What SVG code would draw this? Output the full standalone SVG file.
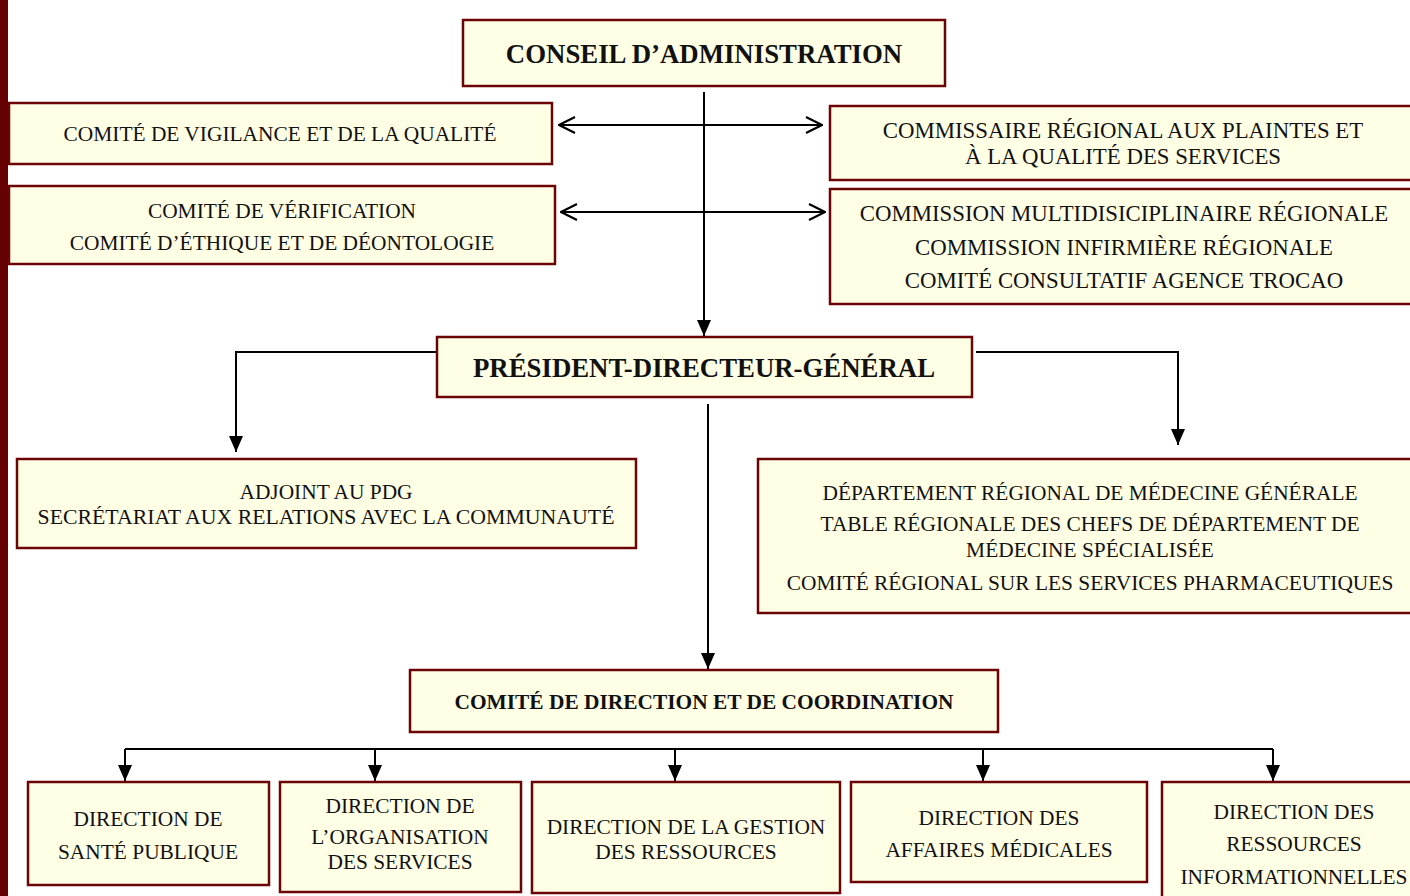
<svg xmlns="http://www.w3.org/2000/svg" width="1410" height="896" viewBox="0 0 1410 896">
<defs>
<style>
.box{fill:#FFFFE6;stroke:#6B0505;stroke-width:2.5}
.t{font-family:"Liberation Serif","Times New Roman",serif;font-size:21.4px;fill:#111;text-anchor:middle}
.tl{font-size:22.8px}
.b{font-family:"Liberation Serif","Times New Roman",serif;font-weight:bold;fill:#111;text-anchor:middle}
.c{fill:none;stroke:#000;stroke-width:2}
</style>
<marker id="tri" viewBox="0 0 16 14" refX="16" refY="7" markerWidth="16" markerHeight="14" markerUnits="userSpaceOnUse" orient="auto">
<path d="M0,0 L16,7 L0,14 Z" fill="#000"/>
</marker>
<marker id="chev" viewBox="0 0 18 18" refX="17" refY="9" markerWidth="18" markerHeight="18" markerUnits="userSpaceOnUse" orient="auto-start-reverse">
<path d="M1,1 L17,9 L1,17" fill="none" stroke="#000" stroke-width="2.2"/>
</marker>
</defs>
<rect x="0" y="0" width="1410" height="896" fill="#fff"/>
<rect x="0" y="0" width="8" height="896" fill="#640000"/>

<g id="connectors">
<line class="c" x1="704" y1="92" x2="704" y2="336" marker-end="url(#tri)"/>
<line class="c" x1="559" y1="125" x2="822" y2="125" marker-start="url(#chev)" marker-end="url(#chev)"/>
<line class="c" x1="561" y1="212" x2="825" y2="212" marker-start="url(#chev)" marker-end="url(#chev)"/>
<polyline class="c" points="437,352 236,352 236,452" marker-end="url(#tri)"/>
<polyline class="c" points="976,352 1178,352 1178,445" marker-end="url(#tri)"/>
<line class="c" x1="708" y1="404" x2="708" y2="669" marker-end="url(#tri)"/>
<line class="c" x1="125" y1="749" x2="1273" y2="749"/>
<line class="c" x1="125" y1="749" x2="125" y2="781" marker-end="url(#tri)"/>
<line class="c" x1="375" y1="749" x2="375" y2="781" marker-end="url(#tri)"/>
<line class="c" x1="675" y1="749" x2="675" y2="781" marker-end="url(#tri)"/>
<line class="c" x1="983" y1="749" x2="983" y2="781" marker-end="url(#tri)"/>
<line class="c" x1="1273" y1="749" x2="1273" y2="781" marker-end="url(#tri)"/>
</g>

<g id="conseil">
<rect class="box" x="463" y="20" width="482" height="66"/>
<text class="b" x="704" y="63" font-size="26.8">CONSEIL D’ADMINISTRATION</text>
</g>
<g id="vigilance">
<rect class="box" x="9" y="103" width="543" height="61"/>
<text class="t" x="280" y="141">COMITÉ DE VIGILANCE ET DE LA QUALITÉ</text>
</g>
<g id="commissaire">
<rect class="box" x="830" y="106" width="600" height="74"/>
<text class="t tl" x="1123" y="138">COMMISSAIRE RÉGIONAL AUX PLAINTES ET</text>
<text class="t tl" x="1123" y="164">À LA QUALITÉ DES SERVICES</text>
</g>
<g id="verification">
<rect class="box" x="9" y="186" width="546" height="78"/>
<text class="t" x="282" y="218">COMITÉ DE VÉRIFICATION</text>
<text class="t" x="282" y="250">COMITÉ D’ÉTHIQUE ET DE DÉONTOLOGIE</text>
</g>
<g id="commission">
<rect class="box" x="830" y="189" width="600" height="115"/>
<text class="t tl" x="1124" y="221">COMMISSION MULTIDISICIPLINAIRE RÉGIONALE</text>
<text class="t tl" x="1124" y="255">COMMISSION INFIRMIÈRE RÉGIONALE</text>
<text class="t tl" x="1124" y="288">COMITÉ CONSULTATIF AGENCE TROCAO</text>
</g>
<g id="pdg">
<rect class="box" x="437" y="337" width="535" height="60"/>
<text class="b" x="704" y="377" font-size="26.8">PRÉSIDENT-DIRECTEUR-GÉNÉRAL</text>
</g>
<g id="adjoint">
<rect class="box" x="17" y="459" width="619" height="89"/>
<text class="t" x="326" y="499" font-size="21.8">ADJOINT AU PDG</text>
<text class="t" x="326" y="524" style="font-size:21.8px">SECRÉTARIAT AUX RELATIONS AVEC LA COMMUNAUTÉ</text>
</g>
<g id="departement">
<rect class="box" x="758" y="459" width="670" height="154"/>
<text class="t" x="1090" y="500">DÉPARTEMENT RÉGIONAL DE MÉDECINE GÉNÉRALE</text>
<text class="t" x="1090" y="531">TABLE RÉGIONALE DES CHEFS DE DÉPARTEMENT DE</text>
<text class="t" x="1090" y="557">MÉDECINE SPÉCIALISÉE</text>
<text class="t" x="1090" y="590">COMITÉ RÉGIONAL SUR LES SERVICES PHARMACEUTIQUES</text>
</g>
<g id="comite-direction">
<rect class="box" x="410" y="670" width="588" height="62"/>
<text class="b" x="704" y="709" font-size="21.4">COMITÉ DE DIRECTION ET DE COORDINATION</text>
</g>
<g id="sante-publique">
<rect class="box" x="28" y="782" width="241" height="103"/>
<text class="t" x="148" y="826">DIRECTION DE</text>
<text class="t" x="148" y="859">SANTÉ PUBLIQUE</text>
</g>
<g id="organisation">
<rect class="box" x="280" y="782" width="241" height="110"/>
<text class="t" x="400" y="813">DIRECTION DE</text>
<text class="t" x="400" y="844">L’ORGANISATION</text>
<text class="t" x="400" y="869">DES SERVICES</text>
</g>
<g id="gestion">
<rect class="box" x="532" y="782" width="308" height="111"/>
<text class="t" x="686" y="834">DIRECTION DE LA GESTION</text>
<text class="t" x="686" y="859">DES RESSOURCES</text>
</g>
<g id="affaires">
<rect class="box" x="851" y="782" width="296" height="100"/>
<text class="t" x="999" y="825">DIRECTION DES</text>
<text class="t" x="999" y="857">AFFAIRES MÉDICALES</text>
</g>
<g id="informationnelles">
<rect class="box" x="1162" y="782" width="270" height="130"/>
<text class="t" x="1294" y="819">DIRECTION DES</text>
<text class="t" x="1294" y="851">RESSOURCES</text>
<text class="t" x="1294" y="884">INFORMATIONNELLES</text>
</g>
</svg>
